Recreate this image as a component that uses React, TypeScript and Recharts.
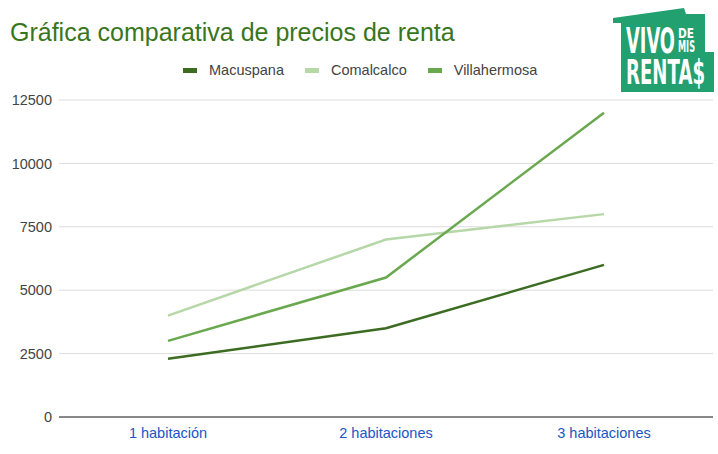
import React from 'react';
import { LineChart, Line, XAxis, YAxis, CartesianGrid } from 'recharts';

const categories = ['1 habitación', '2 habitaciones', '3 habitaciones'];
const macuspana = [2300, 3500, 6000];
const comalcalco = [4000, 7000, 8000];
const villahermosa = [3000, 5500, 12000];
const yTicks = [0, 2500, 5000, 7500, 10000, 12500];

const seriesInfo = [
  { key: 'Macuspana', color: '#3b6c22' },
  { key: 'Comalcalco', color: '#b6d7a8' },
  { key: 'Villahermosa', color: '#6aa84f' },
];

const data = categories.map((c, i) => ({
  name: c,
  Macuspana: macuspana[i],
  Comalcalco: comalcalco[i],
  Villahermosa: villahermosa[i],
}));

const FONT = '"Liberation Sans", Arial, sans-serif';
const LOGO_FONT = '"DejaVu Sans", sans-serif';

const LegendBlock = () => (
  <div
    style={{
      position: 'absolute',
      left: 183,
      top: 61,
      display: 'flex',
      alignItems: 'center',
      fontFamily: FONT,
      fontSize: 14.5,
      color: '#444',
      whiteSpace: 'nowrap',
      lineHeight: '18px',
    }}
  >
    {seriesInfo.map((s) => (
      <div key={s.key} style={{ display: 'flex', alignItems: 'center', marginRight: 21 }}>
        <div style={{ width: 14, height: 5, background: s.color, marginRight: 12 }} />
        <span>{s.key}</span>
      </div>
    ))}
  </div>
);

const LogoText = ({ x, y, size, width, sx, children }: any) => (
  <text
    transform={`translate(${x},${y}) scale(${sx},1)`}
    fill="#fff"
    fontFamily={LOGO_FONT}
    fontWeight="bold"
    fontSize={size}
    textLength={width / sx}
    lengthAdjust="spacingAndGlyphs"
  >
    {children}
  </text>
);

const Logo = () => (
  <svg width={118} height={100} style={{ position: 'absolute', left: 600, top: 0 }}>
    <g transform="translate(-600,0)">
      <polygon
        points="613,18 684,8 686,14 705,14 705,52 714,52 714,92 621,92 621,23 613,23"
        fill="#22a06f"
      />
      <LogoText x={626} y={53} size={35} width={49} sx={0.505}>VIVO</LogoText>
      <LogoText x={678} y={38} size={14} width={16} sx={0.76}>DE</LogoText>
      <LogoText x={678} y={52} size={15} width={17} sx={0.54}>MIS</LogoText>
      <LogoText x={626} y={84} size={34} width={79} sx={0.52}>RENTA$</LogoText>
    </g>
  </svg>
);

export default function App() {
  return (
    <div style={{ position: 'absolute', left: 0, top: 0, width: 718, height: 454, background: '#fff' }}>
      <div style={{ position: 'absolute', left: 10, top: 17, fontFamily: FONT, fontSize: 25, lineHeight: '30px', color: '#38761d', whiteSpace: 'nowrap' }}>
        Gráfica comparativa de precios de renta
      </div>
      <LegendBlock />
      <Logo />
      <div style={{ position: 'absolute', left: 0, top: 0 }}>
        <LineChart width={718} height={454} data={data} margin={{ top: 100, right: 5, left: 0, bottom: 7 }}>
          <CartesianGrid vertical={false} stroke="#dcdcdc" />
          <XAxis
            dataKey="name"
            padding={{ left: 109, right: 109 }}
            axisLine={{ stroke: '#666', strokeWidth: 1.5 }}
            tickLine={false}
            tickSize={0}
            tickMargin={11}
            height={30}
            tick={{ fill: '#1a56c4', fontSize: 14.5, fontFamily: FONT }}
          />
          <YAxis
            domain={[0, 12500]}
            ticks={yTicks}
            width={59}
            axisLine={false}
            tickLine={false}
            tickSize={0}
            tickMargin={7}
            tick={{ fill: '#444', fontSize: 14.5, fontFamily: FONT }}
          />
          {seriesInfo.map((s) => (
            <Line
              key={s.key}
              type="linear"
              dataKey={s.key}
              stroke={s.color}
              strokeWidth={2.5}
              dot={false}
              isAnimationActive={false}
            />
          ))}
        </LineChart>
      </div>
    </div>
  );
}
